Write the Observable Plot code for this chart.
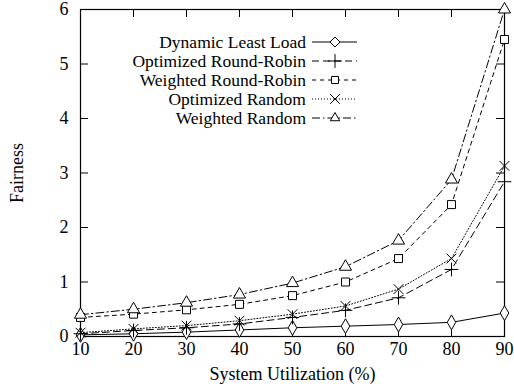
<!DOCTYPE html>
<html>
<head>
<meta charset="utf-8">
<script src="https://cdn.jsdelivr.net/npm/d3@7"></script>
<script src="https://cdn.jsdelivr.net/npm/@observablehq/plot@0.6"></script>
<style>
  html, body { margin: 0; padding: 0; background: #fff; }
  svg { font-family: "Liberation Serif", "Times New Roman", serif; }
</style>
</head>
<body>
<div id="chart"></div>
<script>
const utilization = [10, 20, 30, 40, 50, 60, 70, 80, 90];
const seriesNames = ["Dynamic Least Load", "Optimized Round-Robin", "Weighted Round-Robin", "Optimized Random", "Weighted Random"];
const dynamicLeastLoad = [0.03, 0.05, 0.08, 0.12, 0.16, 0.19, 0.22, 0.26, 0.43];
const optimizedRoundRobin = [0.05, 0.11, 0.16, 0.23, 0.35, 0.48, 0.71, 1.23, 2.84];
const weightedRoundRobin = [0.35, 0.41, 0.49, 0.59, 0.75, 1.00, 1.43, 2.42, 5.45];
const optimizedRandom = [0.07, 0.14, 0.20, 0.29, 0.41, 0.56, 0.87, 1.43, 3.13];
const weightedRandom = [0.40, 0.50, 0.62, 0.77, 0.98, 1.28, 1.76, 2.88, 6.00];
const xTicks = [10, 20, 30, 40, 50, 60, 70, 80, 90];
const yTicks = [0, 1, 2, 3, 4, 5, 6];

const seriesValues = [dynamicLeastLoad, optimizedRoundRobin, weightedRoundRobin, optimizedRandom, weightedRandom];
const styles = [
  {symbol: "diamond", dash: null},
  {symbol: "plus", dash: "7,4"},
  {symbol: "square", dash: "4,4"},
  {symbol: "times", dash: "1,2"},
  {symbol: "triangle", dash: "8,3,1.5,3"}
];

const data = [];
seriesNames.forEach((name, i) => {
  utilization.forEach((u, j) => data.push({series: name, idx: i, x: u, y: seriesValues[i][j]}));
});

const W = 514, H = 389, mL = 80, mR = 10, mT = 9, mB = 53;
const fw = W - mL - mR, fh = H - mT - mB, tick = 8;
const FONT = "Liberation Serif";

const marks = [
  Plot.frame({stroke: "black", strokeWidth: 1.2}),
  Plot.tickX(xTicks, {x: d => d, insetTop: fh - tick, stroke: "black"}),
  Plot.tickX(xTicks, {x: d => d, insetBottom: fh - tick, stroke: "black"}),
  Plot.tickY(yTicks, {y: d => d, insetRight: fw - tick, stroke: "black"}),
  Plot.tickY(yTicks, {y: d => d, insetLeft: fw - tick, stroke: "black"}),
  Plot.axisX(xTicks, {anchor: "bottom", tickSize: 0, tickPadding: 6, fontSize: 18, fontFamily: FONT,
    tickFormat: d3.format("d"),
    label: "System Utilization (%)", labelAnchor: "center", labelArrow: "none", labelOffset: 43}),
  Plot.axisY(yTicks, {anchor: "left", tickSize: 0, tickPadding: 12, fontSize: 18, fontFamily: FONT,
    tickFormat: d3.format("d"),
    label: "Fairness", labelAnchor: "center", labelArrow: "none", labelOffset: 70})
];
seriesNames.forEach((name, i) => {
  const d = data.filter(r => r.idx === i);
  marks.push(Plot.line(d, {x: "x", y: "y", stroke: "black", strokeWidth: 1, strokeDasharray: styles[i].dash}));
  marks.push(Plot.dot(d, {x: "x", y: "y", symbol: () => styles[i].symbol, r: 4.5, stroke: "black", fill: i === 1 || i === 3 ? "none" : "white", strokeWidth: 1}));
});

const chart = Plot.plot({
  width: W, height: H,
  marginLeft: mL, marginRight: mR, marginTop: mT, marginBottom: mB,
  style: {fontFamily: FONT, fontSize: "18px", color: "black", background: "white"},
  x: {domain: [10, 90]},
  y: {domain: [0, 6]},
  symbol: {type: "identity"},
  marks
});

// legend drawn inside the plot area, upper left
const svg = d3.select(chart);
const lg = svg.append("g").attr("font-family", FONT).attr("font-size", 17.5);
const symGen = {
  diamond: d3.symbolDiamond2, plus: d3.symbolPlus, square: d3.symbolSquare2, times: d3.symbolTimes, triangle: d3.symbolTriangle2
};
seriesNames.forEach((name, i) => {
  const cy = 42 + i * 19;
  lg.append("text").attr("x", 306).attr("y", cy).attr("dy", "0.35em").attr("text-anchor", "end").attr("fill", "black").text(name);
  lg.append("line").attr("x1", 312).attr("x2", 357).attr("y1", cy).attr("y2", cy)
    .attr("stroke", "black").attr("stroke-dasharray", styles[i].dash);
  lg.append("path").attr("transform", `translate(335,${cy})`)
    .attr("d", d3.symbol(symGen[styles[i].symbol], 64)())
    .attr("fill", i === 1 || i === 3 ? "none" : "white").attr("stroke", "black");
});

document.getElementById("chart").appendChild(chart);
</script>
</body>
</html>
